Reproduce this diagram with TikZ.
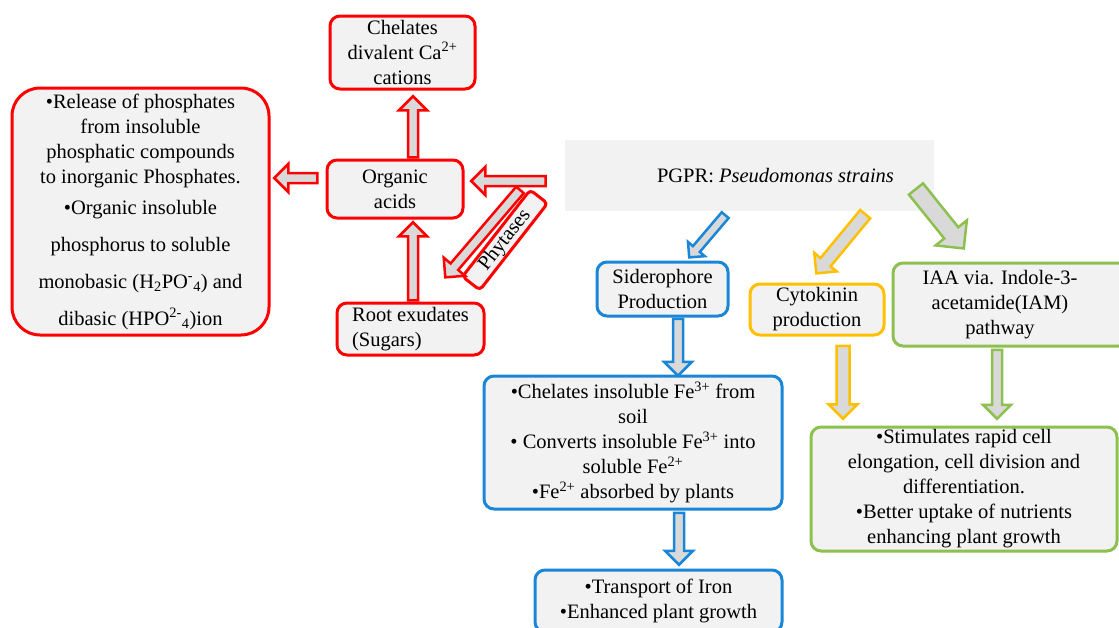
\documentclass[tikz,border=0pt]{standalone}
\usepackage{fontspec}
\setmainfont{Liberation Serif}
\usetikzlibrary{shapes.arrows,calc}
\definecolor{pred}{HTML}{FF0000}
\definecolor{pblue}{HTML}{1A86D8}
\definecolor{porange}{HTML}{FFC000}
\definecolor{pgreen}{HTML}{8DC04F}
\definecolor{boxfill}{HTML}{F2F2F2}
\definecolor{arrfill}{HTML}{D9D9D9}

% block arrow from #2 to #3
\newcommand{\barrow}[3]{\path let \p1=(#2), \p2=(#3), \n1={atan2(\y2-\y1,\x2-\x1)}, \n2={veclen(\x2-\x1,\y2-\y1)} in node[#1, rotate=\n1, minimum height=\n2] at (\p1) {};}

\begin{document}
\begin{tikzpicture}[x=1pt,y=-1pt,
    txt/.style={font=\fontsize{20.5}{25}\selectfont},
    box/.style={txt, draw, line width=3pt, fill=boxfill, rounded corners=10pt, align=center, inner sep=2pt},
    redbox/.style={box, draw=pred},
    bluebox/.style={box, draw=pblue},
    orangebox/.style={box, draw=porange},
    greenbox/.style={box, draw=pgreen},
    arr/.style={single arrow, anchor=tail, fill=arrfill, line width=2.5pt, inner xsep=0pt, inner ysep=3.75pt,
        single arrow head indent=0pt, single arrow head extend=9pt, minimum width=0pt},
    redarr/.style={arr, draw=pred},
    bluearr/.style={arr, draw=pblue},
    orangearr/.style={arr, draw=porange, inner ysep=5.25pt, single arrow head extend=8pt},
    greenarr/.style={arr, draw=pgreen}]
\fill[white] (0,0) rectangle (1119,627);
\useasboundingbox (0,0) rectangle (1119,627);

% phosphate side
\node[redbox, minimum width=145, minimum height=73] (chel) at (402.5,52.5) {Chelates\\divalent Ca\textsuperscript{2+}\\cations};
\node[redbox, rounded corners=28pt, minimum width=257, minimum height=247] (phos) at (140.5,211.5)
    {\textbullet Release of phosphates\\from insoluble\\phosphatic compounds\\to inorganic Phosphates.\\[6pt]
     \textbullet Organic insoluble\\[12pt]phosphorus to soluble\\[12pt]
     monobasic (H\textsubscript{2}PO\textsuperscript{-}\textsubscript{4}) and\\[12pt]
     dibasic (HPO\textsuperscript{2-}\textsubscript{4})ion};
\node[redbox, minimum width=136, minimum height=58] (acids) at (395,189) {Organic\\acids};
\node[redbox, align=left, minimum width=147, minimum height=52] (root) at (410.5,329) {Root exudates\\(Sugars)};
\node[redbox, rotate=52, rounded corners=4pt, inner sep=0pt, minimum width=110, minimum height=22] (phyt) at (505,240) {Phytases};

% PGPR
\node[fill=boxfill, minimum width=369, minimum height=71,
    label={[txt, xshift=26pt]center:PGPR: \textit{Pseudomonas strains}}] (pgpr) at (749.5,175.5) {};

\node[bluebox, minimum width=131, minimum height=54] (sidero) at (662.5,289) {Siderophore\\Production};
\node[orangebox, minimum width=134, minimum height=51] (cyto) at (817,309.5) {Cytokinin\\production};
\node[greenbox, minimum width=236, minimum height=83,
    label={[txt, align=center, xshift=-11pt]center:IAA via. Indole-3-\\acetamide(IAM)\\pathway}] (iaa) at (1011,304.5) {};
\node[bluebox, minimum width=298, minimum height=133] (fe) at (633,442.5)
    {\textbullet Chelates insoluble Fe\textsuperscript{3+} from\\soil\\\textbullet{} Converts insoluble Fe\textsuperscript{3+} into\\soluble Fe\textsuperscript{2+}\\\textbullet Fe\textsuperscript{2+} absorbed by plants};
\node[bluebox, minimum width=247, minimum height=62] (trans) at (658.5,601) {\textbullet Transport of Iron\\\textbullet Enhanced plant growth};
\node[greenbox, minimum width=306, minimum height=124] (stim) at (964,489)
    {\textbullet Stimulates rapid cell\\elongation, cell division and\\differentiation.\\\textbullet Better uptake of nutrients\\enhancing plant growth};

% arrow ends
\coordinate (a1) at ($(acids.west)+(-7,-11)$);   \coordinate (b1) at ($(phos.east)+(5,-33.5)$);
\coordinate (a2) at ($(acids.north)+(18,0)$);    \coordinate (b2) at ($(chel.south)+(10.5,7)$);
\coordinate (a3) at ($(root.north)+(2.5,0)$);    \coordinate (b3) at ($(acids.south)+(18,4)$);
\coordinate (a4) at ($(pgpr.west)+(-18,5.5)$);   \coordinate (b4) at ($(acids.east)+(8,-8)$);
\coordinate (a5) at ($(pgpr.west)+(-44,13.5)$);  \coordinate (b5) at ($(root.north)+(35.5,-25)$);
\coordinate (a6) at ($(pgpr.south)+(-23.5,3)$);  \coordinate (b6) at ($(sidero.north)+(27.5,-4)$);
\coordinate (a7) at ($(sidero.south)+(15.5,0)$); \coordinate (b7) at ($(fe.north)+(45,0)$);
\coordinate (a8) at ($(fe.south)+(46,1)$);       \coordinate (b8) at ($(trans.north)+(20.5,-5)$);
\coordinate (a9) at ($(pgpr.south)+(116.5,2)$);  \coordinate (b9) at ($(cyto.north)+(0,-10)$);
\coordinate (a10) at ($(cyto.south)+(26,8)$);    \coordinate (b10) at ($(stim.north)+(-121,-8)$);
\coordinate (a11) at ($(pgpr.east)+(-19,12.5)$); \coordinate (b11) at ($(iaa.north)+(-48,-14)$);
\coordinate (a12) at ($(iaa.south)+(-14,1)$);    \coordinate (b12) at ($(stim.north)+(33,-8)$);

\foreach \i in {1,...,5} {\barrow{redarr}{a\i}{b\i}}
\barrow{bluearr, inner ysep=3.25pt, single arrow head extend=6.5pt}{a6}{b6}
\barrow{bluearr}{a7}{b7}
\barrow{bluearr}{a8}{b8}
\barrow{orangearr}{a9}{b9}
\barrow{orangearr}{a10}{b10}
\barrow{greenarr, inner ysep=7.75pt, single arrow head extend=11pt}{a11}{b11}
\barrow{greenarr}{a12}{b12}
\end{tikzpicture}
\end{document}
